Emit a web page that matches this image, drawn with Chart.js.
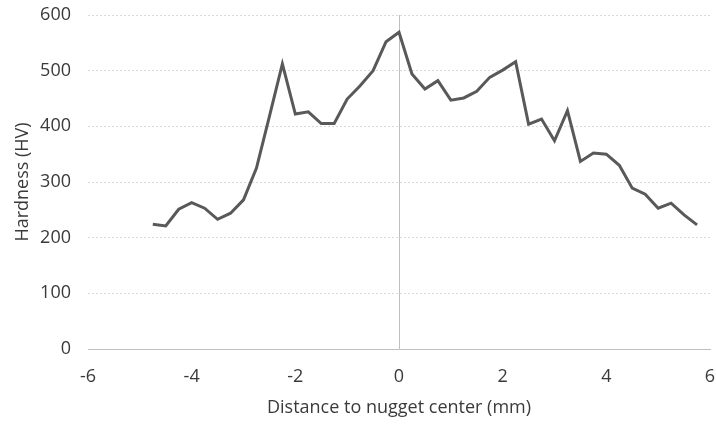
<!DOCTYPE html>
<html>
<head>
<meta charset="utf-8">
<script src="https://cdn.jsdelivr.net/npm/chart.js@4/dist/chart.umd.min.js"></script>
<style>
  html, body { margin: 0; padding: 0; background: #fff; }
  #wrap { width: 716px; height: 425px; }
</style>
</head>
<body>
<div id="wrap"><canvas id="chart"></canvas></div>
<script>
// distance to nugget center (mm)
const distances = [-4.75, -4.5, -4.25, -4, -3.75, -3.5, -3.25, -3, -2.75, -2.5, -2.25, -2, -1.75, -1.5, -1.25, -1, -0.75, -0.5, -0.25, 0,
  0.25, 0.5, 0.75, 1, 1.25, 1.5, 1.75, 2, 2.25, 2.5, 2.75, 3, 3.25, 3.5, 3.75, 4, 4.25, 4.5, 4.75, 5, 5.25, 5.5, 5.75];
// hardness (HV)
const hardness = [224, 221, 251, 263, 253, 233, 244, 268, 325, 418, 512, 422, 426, 405, 405, 449, 473, 500, 552, 569,
  494, 467, 482, 447, 451, 463, 488, 501, 516, 404, 413, 374, 428, 337, 352, 350, 330, 289, 278, 253, 262, 241, 223];

const xTicks = [-6, -4, -2, 0, 2, 4, 6];
const yTicks = [0, 100, 200, 300, 400, 500, 600];

const textColor = '#3a3a3a';
const font = { family: '"Open Sans", sans-serif', size: 18 };

const points = distances.map((d, i) => ({ x: d, y: hardness[i] }));

new Chart(document.getElementById('chart'), {
  type: 'scatter',
  data: {
    datasets: [{
      data: points,
      showLine: true,
      borderColor: '#595959',
      borderWidth: 3,
      pointRadius: 0,
      tension: 0
    }]
  },
  options: {
    responsive: true,
    maintainAspectRatio: false,
    animation: false,
    layout: { padding: { top: 15, right: 6, left: 0, bottom: 0 } },
    plugins: { legend: { display: false }, tooltip: { enabled: false } },
    scales: {
      x: {
        type: 'linear',
        min: xTicks[0],
        max: xTicks[xTicks.length - 1],
        afterBuildTicks: (s) => { s.ticks = xTicks.map(v => ({ value: v })); },
        afterFit: (s) => { s.height = 76; s.paddingLeft = 0; s.paddingRight = 0; },
        border: { display: true, color: '#bfbfbf', width: 1 },
        grid: {
          drawTicks: false,
          lineWidth: 1,
          color: (c) => (c.tick && c.tick.value === 0 ? '#bfbfbf' : 'rgba(0,0,0,0)')
        },
        ticks: { color: textColor, font: font, padding: 17, maxRotation: 0 },
        title: { display: true, text: 'Distance to nugget center (mm)', color: textColor, font: font, padding: { top: 4, bottom: 6 } }
      },
      y: {
        min: yTicks[0],
        max: yTicks[yTicks.length - 1],
        afterBuildTicks: (s) => { s.ticks = yTicks.map(v => ({ value: v })); },
        afterFit: (s) => { s.width = 88; s.paddingTop = 0; s.paddingBottom = 0; },
        border: { display: false, dash: [2, 2] },
        grid: { drawTicks: false, color: '#d9d9d9', lineWidth: 1 },
        ticks: { color: textColor, font: font, padding: 17 },
        title: { display: true, text: 'Hardness (HV)', color: textColor, font: font, padding: { top: 12, bottom: 6 } }
      }
    }
  }
});
</script>
</body>
</html>
